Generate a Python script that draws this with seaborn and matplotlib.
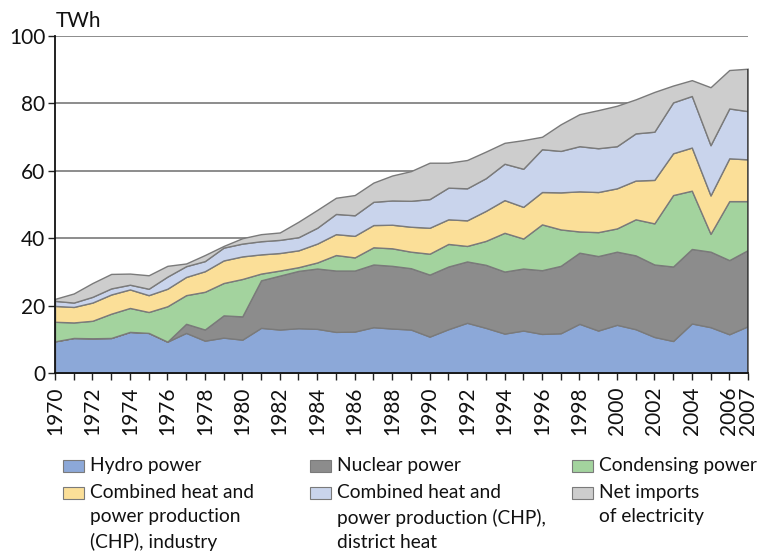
import matplotlib
matplotlib.use("Agg")
import matplotlib.pyplot as plt
from matplotlib.patches import Rectangle
import seaborn as sns

# electricity supply by source, TWh per year
years = list(range(1970, 2008))

hydro = [9.4, 10.4, 10.3, 10.4, 12.2, 11.9, 9.3, 11.9, 9.6, 10.5,
         9.9, 13.4, 12.9, 13.3, 13.1, 12.2, 12.3, 13.6, 13.2, 12.9,
         10.8, 13.0, 14.9, 13.4, 11.7, 12.6, 11.6, 11.8, 14.6, 12.6,
         14.3, 13.0, 10.7, 9.5, 14.7, 13.6, 11.5, 13.9]
nuclear = [0, 0, 0, 0, 0, 0, 0, 2.7, 3.3, 6.6,
           6.9, 14.1, 16.0, 17.0, 17.9, 18.2, 18.1, 18.6, 18.6, 18.2,
           18.4, 18.6, 18.2, 18.7, 18.4, 18.4, 18.9, 20.0, 21.1, 22.1,
           21.7, 21.9, 21.5, 22.1, 22.1, 22.4, 22.0, 22.6]
condensing = [5.8, 4.6, 5.2, 7.2, 7.1, 6.2, 10.5, 8.5, 11.2, 9.6,
              11.1, 2.0, 1.5, 1.1, 1.8, 4.6, 3.9, 5.1, 5.2, 4.9,
              6.2, 6.7, 4.6, 7.1, 11.5, 8.9, 13.6, 10.8, 6.3, 7.1,
              6.9, 10.7, 12.2, 21.2, 17.3, 5.3, 17.5, 14.5]
chp_industry = [4.7, 4.6, 5.4, 5.7, 5.5, 5.0, 5.2, 5.4, 6.1, 6.7,
                6.7, 5.7, 5.2, 5.0, 5.6, 6.2, 6.4, 6.6, 7.0, 7.4,
                7.7, 7.3, 7.6, 8.9, 9.7, 9.4, 9.6, 11.0, 11.9, 11.9,
                11.9, 11.5, 12.9, 12.4, 12.8, 11.4, 12.7, 12.4]
chp_district = [1.5, 1.3, 1.7, 1.8, 1.4, 1.9, 3.6, 3.2, 3.0, 3.8,
                3.8, 3.9, 3.9, 3.9, 4.7, 6.0, 6.1, 6.9, 7.2, 7.7,
                8.5, 9.4, 9.5, 9.7, 10.8, 11.3, 12.7, 12.3, 13.4, 13.0,
                12.5, 14.0, 14.3, 15.1, 15.3, 14.9, 14.8, 14.3]
net_imports = [0.6, 2.7, 4.1, 4.3, 3.3, 4.0, 3.2, 0.8, 1.8, 0.5,
               1.6, 2.1, 2.2, 4.6, 5.3, 4.8, 6.0, 5.7, 7.4, 8.8,
               10.8, 7.4, 8.4, 7.9, 6.2, 8.5, 3.7, 7.9, 9.5, 11.3,
               12.0, 10.1, 11.8, 5.0, 4.7, 17.2, 11.4, 12.6]

series_labels = [
    "Hydro power",
    "Nuclear power",
    "Condensing power",
    "Combined heat and\npower production\n(CHP), industry",
    "Combined heat and\npower production (CHP),\ndistrict heat",
    "Net imports\nof electricity",
]
series_colors = ["#8CA8D8", "#8C8C8C", "#A3D39E", "#FBDF98", "#C9D4EC", "#CDCDCD"]

y_ticks = [0, 20, 40, 60, 80, 100]
x_ticklabels = [str(y) if (y % 2 == 0 or y == years[-1]) else "" for y in years]

sns.set_theme(style="ticks")
plt.rcParams["font.family"] = ["Lato", "DejaVu Sans"]

W, H = 764, 557
fig = plt.figure(figsize=(W / 100, H / 100), dpi=100)
ax = fig.add_axes([55 / W, 1 - 373 / H, (748 - 55) / W, (373 - 36) / H])

for v in y_ticks[1:]:
    ax.axhline(v, color="#6e6e6e", lw=1.1, zorder=0)

stack = [hydro, nuclear, condensing, chp_industry, chp_district, net_imports]
ax.stackplot(years, *stack, colors=series_colors, edgecolor="#7a7a7a",
             linewidth=1.0, zorder=2)

totals = [sum(vals) for vals in zip(*stack)]
ax.vlines(years[-1], 0, totals[-1], color="#333333", lw=1.2, zorder=3)

ax.set_xlim(years[0], years[-1])
ax.set_ylim(0, 100)
ax.set_xticks(years)
ax.set_xticklabels(x_ticklabels, rotation=90, fontsize=15, color="#111111")
ax.set_yticks(y_ticks)
ax.set_yticklabels([str(v) for v in y_ticks], fontsize=15, color="#111111")
ax.tick_params(axis="x", direction="out", length=5, width=1, pad=5, color="#222222")
ax.tick_params(axis="y", direction="out", length=5, width=1, pad=2, color="#222222")
for side in ["top", "right"]:
    ax.spines[side].set_visible(False)
for side in ["left", "bottom"]:
    ax.spines[side].set_color("#111111")
    ax.spines[side].set_linewidth(1.3)
    ax.spines[side].set_zorder(4)

fig.text(56 / W, 1 - 27 / H, "TWh", fontsize=15, color="#111111", va="baseline")

# legend laid out as in the reference: three columns, filled row-wise
col_x = [63, 310, 572]
row_y = [460, 487]
for i, (label, color) in enumerate(zip(series_labels, series_colors)):
    r, c = divmod(i, 3)
    hx, hy = col_x[c], row_y[r]
    fig.patches.append(Rectangle((hx / W, 1 - (hy + 12) / H), 21 / W, 12 / H,
                                 transform=fig.transFigure, facecolor=color,
                                 edgecolor="#7a7a7a", lw=0.8))
    fig.text((hx + 27) / W, 1 - (hy - 3) / H, label, fontsize=13.8,
             color="#111111", va="top", ha="left", linespacing=1.5)

fig.savefig("out.png", dpi=100)
